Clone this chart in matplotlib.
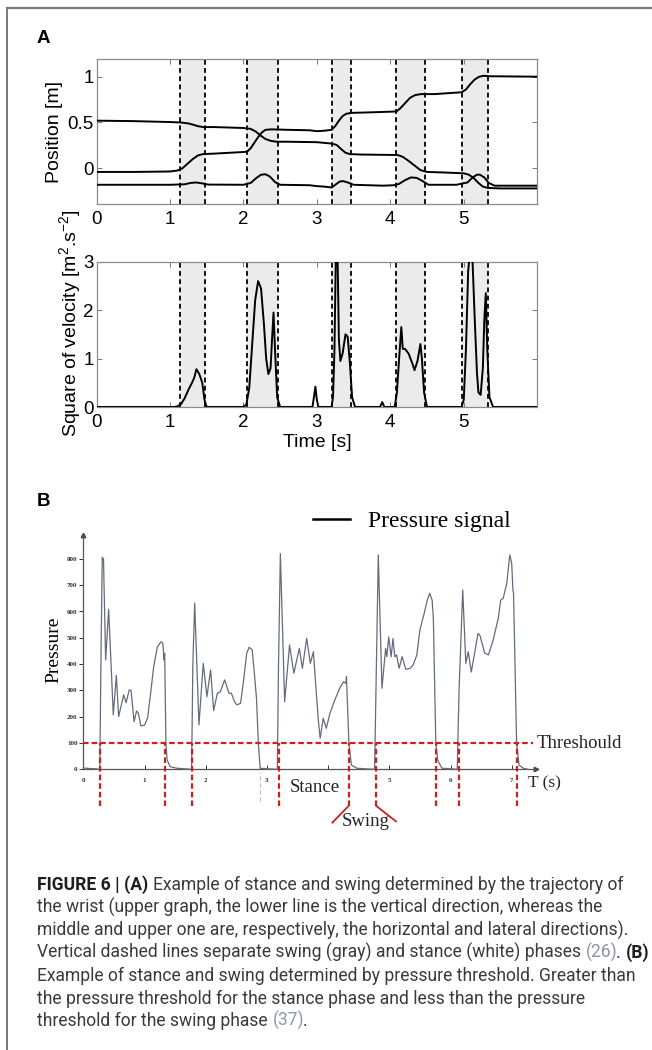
import matplotlib
matplotlib.use('Agg')
import matplotlib.pyplot as plt
from matplotlib.lines import Line2D

plt.rcParams['lines.scale_dashes'] = False
plt.rcParams['mathtext.fontset'] = 'custom'
plt.rcParams['mathtext.rm'] = 'Liberation Sans'
plt.rcParams['mathtext.it'] = 'Liberation Sans:italic'
plt.rcParams['mathtext.bf'] = 'Liberation Sans:bold'

W, H = 652, 1050

# ---------------- Panel A data ----------------
swing_start = [1.135, 2.05, 3.21, 4.08, 4.97]
swing_end = [1.475, 2.47, 3.47, 4.47, 5.33]

lat_t = [0, 0.5, 1.0, 1.15, 1.25, 1.32, 1.38, 1.45, 1.6, 2.0, 2.1, 2.17, 2.23, 2.3, 2.37, 2.45, 2.6,
         3.0, 3.2, 3.27, 3.33, 3.39, 3.45, 3.6, 4.1, 4.17, 4.25, 4.33, 4.41, 4.5, 4.7, 5.0, 5.07,
         5.14, 5.2, 5.26, 5.33, 5.5, 6.0]
lat_v = [0.52, 0.515, 0.505, 0.50, 0.49, 0.475, 0.46, 0.45, 0.45, 0.44, 0.43, 0.40, 0.36, 0.32, 0.30, 0.29, 0.29,
         0.285, 0.27, 0.255, 0.21, 0.17, 0.155, 0.15, 0.145, 0.125, 0.08, 0.03, -0.02, -0.04, -0.045, -0.055, -0.07,
         -0.11, -0.16, -0.2, -0.215, -0.22, -0.22]

hor_t = [0, 0.5, 1.0, 1.1, 1.17, 1.24, 1.31, 1.38, 1.45, 1.6, 2.05, 2.1, 2.15, 2.2, 2.25, 2.3, 2.38, 2.6,
         2.9, 3.0, 3.1, 3.2, 3.25, 3.3, 3.35, 3.4, 3.47, 3.7, 4.08, 4.13, 4.2, 4.27, 4.34, 4.42, 4.6,
         4.97, 5.03, 5.09, 5.15, 5.21, 5.27, 5.35, 6.0]
hor_v = [-0.04, -0.04, -0.035, -0.025, 0.0, 0.05, 0.10, 0.14, 0.155, 0.16, 0.18, 0.22, 0.28, 0.34, 0.39, 0.42, 0.425, 0.42,
         0.415, 0.405, 0.41, 0.42, 0.46, 0.52, 0.57, 0.595, 0.605, 0.61, 0.62, 0.65, 0.71, 0.77, 0.80, 0.81, 0.81,
         0.83, 0.86, 0.92, 0.97, 1.0, 1.01, 1.005, 1.0]

ver_t = [0, 1.0, 1.2, 1.28, 1.36, 1.44, 1.52, 2.0, 2.1, 2.17, 2.24, 2.3, 2.36, 2.43, 2.5, 2.9, 3.0, 3.1,
         3.2, 3.26, 3.31, 3.36, 3.42, 3.5, 3.9, 4.05, 4.12, 4.2, 4.28, 4.36, 4.44, 4.52, 4.9, 5.05,
         5.12, 5.18, 5.22, 5.28, 5.34, 5.42, 6.0]
ver_v = [-0.18, -0.18, -0.175, -0.16, -0.155, -0.165, -0.178, -0.18, -0.16, -0.11, -0.07, -0.065, -0.09, -0.15, -0.18, -0.185, -0.195, -0.2,
         -0.21, -0.175, -0.145, -0.14, -0.155, -0.18, -0.19, -0.185, -0.17, -0.13, -0.10, -0.105, -0.14, -0.18, -0.18, -0.155,
         -0.1, -0.07, -0.07, -0.1, -0.16, -0.19, -0.19]

vel_t = [0, 1.05, 1.1, 1.15, 1.2, 1.25, 1.3, 1.33, 1.36, 1.4, 1.44, 1.47, 1.5,
         2.0, 2.04, 2.08, 2.12, 2.16, 2.2, 2.24, 2.28, 2.31, 2.34, 2.37, 2.39, 2.41, 2.43, 2.46, 2.5,
         2.94, 2.96, 2.98, 3.0, 3.02,
         3.2, 3.22, 3.24, 3.26, 3.28, 3.3, 3.32, 3.35, 3.39, 3.42, 3.45, 3.48, 3.52,
         3.86, 3.89, 3.92,
         4.06, 4.09, 4.12, 4.15, 4.17, 4.2, 4.25, 4.3, 4.33, 4.37, 4.41, 4.43, 4.46, 4.5,
         4.97, 5.0, 5.03, 5.06, 5.09, 5.12, 5.15, 5.18, 5.2, 5.23, 5.26, 5.28, 5.3, 5.32, 5.35, 5.4, 6.0]
vel_v = [0, 0, 0.01, 0.06, 0.18, 0.35, 0.5, 0.6, 0.78, 0.68, 0.5, 0.15, 0,
         0, 0.05, 0.4, 1.3, 2.2, 2.6, 2.45, 1.7, 1.0, 0.68, 0.8, 1.4, 1.95, 1.2, 0.2, 0,
         0, 0.2, 0.42, 0.15, 0,
         0, 0.2, 1.2, 3.3, 3.3, 1.4, 0.95, 1.1, 1.5, 1.45, 0.9, 0.2, 0,
         0, 0.1, 0,
         0, 0.3, 1.0, 1.65, 1.2, 1.2, 1.1, 0.9, 0.76, 0.95, 1.3, 1.0, 0.3, 0,
         0, 0.15, 1.2, 2.8, 3.3, 3.0, 1.8, 0.7, 0.3, 0.25, 0.8, 1.8, 2.35, 1.2, 0.2, 0, 0]

pos_ticks = [0, 0.5, 1]
pos_ticklabels = ['0', '0.5', '1']
vel_ticks = [0, 1, 2, 3]
time_ticks = [0, 1, 2, 3, 4, 5]

# ---------------- Panel B data ----------------
pres_t = [0, 0.1, 0.2, 0.25, 0.27, 0.29, 0.31, 0.33, 0.365, 0.414, 0.49, 0.54, 0.577, 0.66, 0.70, 0.75,
          0.78, 0.83, 0.87, 0.90, 0.94, 1.0, 1.05, 1.10, 1.15, 1.21, 1.27, 1.30, 1.32, 1.33, 1.35, 1.37,
          1.42, 1.53, 1.65, 1.77,
          1.79, 1.82, 1.89, 1.96, 2.02, 2.08, 2.13, 2.19, 2.24, 2.31, 2.38, 2.42, 2.47, 2.51, 2.57, 2.62,
          2.67, 2.71, 2.76, 2.80, 2.83, 2.845, 2.86, 2.89, 3.0, 3.17,
          3.19, 3.22, 3.29, 3.37, 3.44, 3.53, 3.58, 3.65, 3.71, 3.76, 3.80, 3.84, 3.87, 3.92, 3.97, 4.03,
          4.11, 4.19, 4.25, 4.29, 4.30, 4.34, 4.38, 4.47, 4.6, 4.76,
          4.79, 4.82, 4.88, 4.94, 4.96, 4.99, 5.03, 5.06, 5.09, 5.12, 5.16, 5.21, 5.27, 5.34, 5.39, 5.45,
          5.50, 5.57, 5.62, 5.66, 5.70, 5.72, 5.76, 5.79, 5.86, 6.0, 6.11,
          6.14, 6.20, 6.25, 6.29, 6.34, 6.45, 6.48, 6.56, 6.62, 6.70, 6.78, 6.82, 6.86, 6.92, 6.96, 6.97,
          7.0, 7.02, 7.03, 7.08, 7.12, 7.19, 7.27]
pres_v = [5, 3, 2, 0, 0, 450, 806, 800, 416, 608, 207, 357, 200, 283, 253, 302,
          300, 181, 222, 213, 165, 168, 194, 289, 390, 466, 485, 479, 416, 441, 100, 35,
          10, 4, 2, 0,
          400, 631, 169, 403, 276, 378, 223, 289, 295, 340, 289, 289, 257, 245, 251, 340,
          441, 464, 454, 352, 270, 188, 100, 4, 2, 0,
          400, 820, 257, 473, 365, 460, 384, 498, 403, 447, 314, 188, 118, 194, 156, 213,
          264, 308, 333, 327, 352, 100, 16, 4, 2, 0,
          400, 815, 308, 460, 428, 503, 428, 497, 428, 435, 384, 428, 380, 384, 397, 435,
          530, 593, 643, 669, 643, 573, 100, 35, 4, 2, 0,
          300, 682, 403, 447, 370, 517, 510, 441, 435, 494, 574, 643, 650, 707, 798, 815,
          783, 682, 669, 100, 16, 4, 0]
threshold = 100
event_t = [0.27, 1.34, 1.78, 3.20, 4.34, 4.78, 5.76, 6.14, 7.09]
faint_t = [2.88]
swing_left = ([4.34, 4.06], [-138, -205])
swing_right = ([4.78, 5.12], [-138, -200])
pres_ticks = [0, 100, 200, 300, 400, 500, 600, 700, 800]
tsec_ticks = [0, 1, 2, 3, 4, 5, 6, 7]
tsec_labels = ['0', '1', '2', '3', '', '5', '6', '7']   # "4" is hidden under "Stance"

# caption segments: (text, style, kern in px applied before the segment)
caption = [
    [("FIGURE 6 | (A)", "b", 0), (" ", "r", 0), ("Example of stance and swing determined by the trajectory of", "r", 0)],
    [("the wrist (upper graph, the lower line is the vertical direction, whereas the", "r", 0)],
    [("middle and upper one are, respectively, the horizontal and lateral directions).", "r", 0)],
    [("Vertical dashed lines separate swing (gray) and stance (white) phases", "r", 0), (" ", "r", 0),
     ("(26)", "ref", 0), (".", "r", -2.8), (" ", "r", 0), ("(B)", "b", 0)],
    [("Example of stance and swing determined by pressure threshold. Greater than", "r", 0)],
    [("the pressure threshold for the stance phase and less than the pressure", "r", 0)],
    [("threshold for the swing phase", "r", 0), (" ", "r", 0), ("(37)", "ref", 0), (".", "r", -2.8)],
]

# ---------------- helpers ----------------
def fx(px):
    return px / W

def fy(py):
    return 1 - py / H

fig = plt.figure(figsize=(W / 100, H / 100), dpi=100)
fig.patch.set_facecolor('white')

# frame
fig.add_artist(Line2D([fx(7), fx(7)], [0, fy(8)], transform=fig.transFigure, color='#7a7a7a', lw=1.4))
fig.add_artist(Line2D([fx(7), 1], [fy(8), fy(8)], transform=fig.transFigure, color='#7a7a7a', lw=1.6))

SANS = 'Liberation Sans'
SERIF = 'Liberation Serif'

fig.text(fx(37), fy(38.5), 'A', fontsize=13.5, fontweight='bold', family=SANS, va='center', ha='left')
fig.text(fx(37), fy(501), 'B', fontsize=13.5, fontweight='bold', family=SANS, va='center', ha='left')

# ---------------- Panel A ----------------
axL, axR = 96.5, 537.2
ax1 = fig.add_axes([fx(axL), fy(204), (axR - axL) / W, (204 - 59.3) / H])
ax2 = fig.add_axes([fx(axL), fy(407), (axR - axL) / W, (407 - 261.7) / H])

for ax in (ax1, ax2):
    for s, e in zip(swing_start, swing_end):
        ax.axvspan(s, e, color='#ebebeb', lw=0, zorder=0)
    for xv in swing_start + swing_end:
        ax.axvline(xv, color='black', lw=1.3, dashes=(3.5, 2.4), zorder=2)
    ax.set_xlim(0, 6)
    ax.set_xticks(time_ticks)
    ax.tick_params(direction='in', top=True, right=True, length=3.5, width=0.7, color='#777',
                   labelsize=13.5, pad=2)
    for sp in ax.spines.values():
        sp.set_color('#8a8a8a')
        sp.set_linewidth(0.9)
    for lbl in ax.get_xticklabels() + ax.get_yticklabels():
        lbl.set_family(SANS)
    ax.tick_params(axis='x', pad=5)

ax1.plot(lat_t, lat_v, color='black', lw=1.4, zorder=3)
ax1.plot(hor_t, hor_v, color='black', lw=1.4, zorder=3)
ax1.plot(ver_t, ver_v, color='black', lw=1.4, zorder=3)
ax1.set_ylim(-0.39, 1.19)
ax1.set_yticks(pos_ticks)
ax1.set_yticklabels(pos_ticklabels, family=SANS)
ax1.set_ylabel('Position [m]', fontsize=14, family=SANS)
ax1.yaxis.set_label_coords(-0.077, 0.5)

ax2.plot(vel_t, vel_v, color='black', lw=1.4, zorder=3)
ax2.set_ylim(0, 3)
ax2.set_yticks(vel_ticks)
ax2.set_yticklabels([str(v) for v in vel_ticks], family=SANS)
ax2.set_ylabel(r'Square of velocity [m$^2$.s$^{-2}$]', fontsize=14, family=SANS)
ax2.yaxis.set_label_coords(-0.031, 0.575)
ax2.set_xlabel('Time [s]', fontsize=14, family=SANS, labelpad=2)

# ---------------- Panel B ----------------
x0px, xs = 83.3, 61.2      # pixel of t=0, pixels per second
y0px, ys = 769.3, 0.263    # pixel of p=0, pixels per unit pressure
bl, br, bt, bb = 40, 640, 515, 840
axb = fig.add_axes([fx(bl), fy(bb), (br - bl) / W, (bb - bt) / H])
axb.set_xlim((bl - x0px) / xs, (br - x0px) / xs)
axb.set_ylim((y0px - bb) / ys, (y0px - bt) / ys)
axb.patch.set_alpha(0)
for k in ('top', 'right'):
    axb.spines[k].set_visible(False)
axb.spines['left'].set_position(('data', 0))
axb.spines['bottom'].set_position(('data', 0))
axb.spines['left'].set_bounds(0, 891)
axb.spines['bottom'].set_bounds(0, 7.4)
for k in ('left', 'bottom'):
    axb.spines[k].set_color('#555')
    axb.spines[k].set_linewidth(0.9)
axb.plot([0], [891], marker='^', ms=3.2, color='#444', clip_on=False)
axb.plot([7.4], [0], marker='>', ms=3.2, color='#444', clip_on=False)

axb.set_yticks(pres_ticks)
axb.set_xticks(tsec_ticks)
axb.set_xticklabels(tsec_labels)
axb.tick_params(axis='y', direction='out', length=3, width=0.7, pad=1.2, labelsize=5, colors='#333')
axb.tick_params(axis='x', direction='in', length=3, width=0.7, pad=6.0, labelsize=5, colors='#333')
for lbl in axb.get_xticklabels() + axb.get_yticklabels():
    lbl.set_family(SERIF)
    lbl.set_fontweight('bold')

axb.plot(pres_t, pres_v, color='#646b7b', lw=0.9, zorder=3)
axb.hlines(threshold, 0, 7.35, color='#cc1f1f', lw=1.6, linestyles=(0, (4, 2.2)), zorder=4)
axb.vlines(event_t, -140, threshold, color='#cc1f1f', lw=1.6, linestyles=(0, (4, 2.2)), zorder=4)
axb.vlines(faint_t, -120, -12, color='#bbbbbb', lw=0.8, linestyles=(0, (3, 2)), zorder=2)
axb.plot(*swing_left, color='#cc1f1f', lw=1.3, solid_capstyle='butt')
axb.plot(*swing_right, color='#cc1f1f', lw=1.3, solid_capstyle='butt')

axb.text(7.41, threshold, 'Threshould', family=SERIF, fontsize=13.5, va='center', ha='left', color='#222')
axb.text(7.27, -52, 'T (s)', family=SERIF, fontsize=12.5, va='center', ha='left', color='#222')
axb.text(3.79, -71, 'Stance', family=SERIF, fontsize=13.5, va='center', ha='center', color='#222')
axb.text(4.62, -199, 'Swing', family=SERIF, fontsize=13.5, va='center', ha='center', color='#222')
axb.set_ylabel('Pressure', family=SERIF, fontsize=14)
axb.yaxis.set_label_coords((62 - bl) / (br - bl), (bb - 650) / (bb - bt))

proxy = Line2D([], [], color='black', lw=1.8)
fig.legend(handles=[proxy], labels=['Pressure signal'], loc='center left',
           bbox_to_anchor=(fx(313), fy(521)), bbox_transform=fig.transFigure, frameon=False,
           prop={'family': SERIF, 'size': 17}, handlelength=1.57, handletextpad=0.76,
           borderpad=0, borderaxespad=0)

# ---------------- Caption ----------------
renderer = fig.canvas.get_renderer()
CAP = 'Roboto'
styles = {
    'r': dict(family=CAP, fontweight='normal', color='#3a3a3a'),
    'b': dict(family=CAP, fontweight='bold', color='#1e1e1e'),
    'ref': dict(family=CAP, fontweight='normal', color='#8a97a5'),
}

def text_w(s, size, style):
    t = fig.text(0, 0, s, fontsize=size, **styles[style])
    w = t.get_window_extent(renderer).width
    t.remove()
    return w

def seg_w(s, size, style):
    if s.strip():
        return text_w(s, size, style) + 0.8
    return text_w('I I', size, style) - text_w('II', size, style)

base = 12.0
w4 = sum(seg_w(s, base, st) + k for s, st, k in caption[3])
cap_fs = base * 612.0 / w4

for i, line in enumerate(caption):
    x = 37.0
    yb = 890.0 + i * 22.7
    for s, st, k in line:
        x += k
        if s.strip():
            fig.text(fx(x), fy(yb), s, fontsize=cap_fs, va='baseline', ha='left', **styles[st])
        x += seg_w(s, cap_fs, st)

fig.savefig('out.png', dpi=100)
